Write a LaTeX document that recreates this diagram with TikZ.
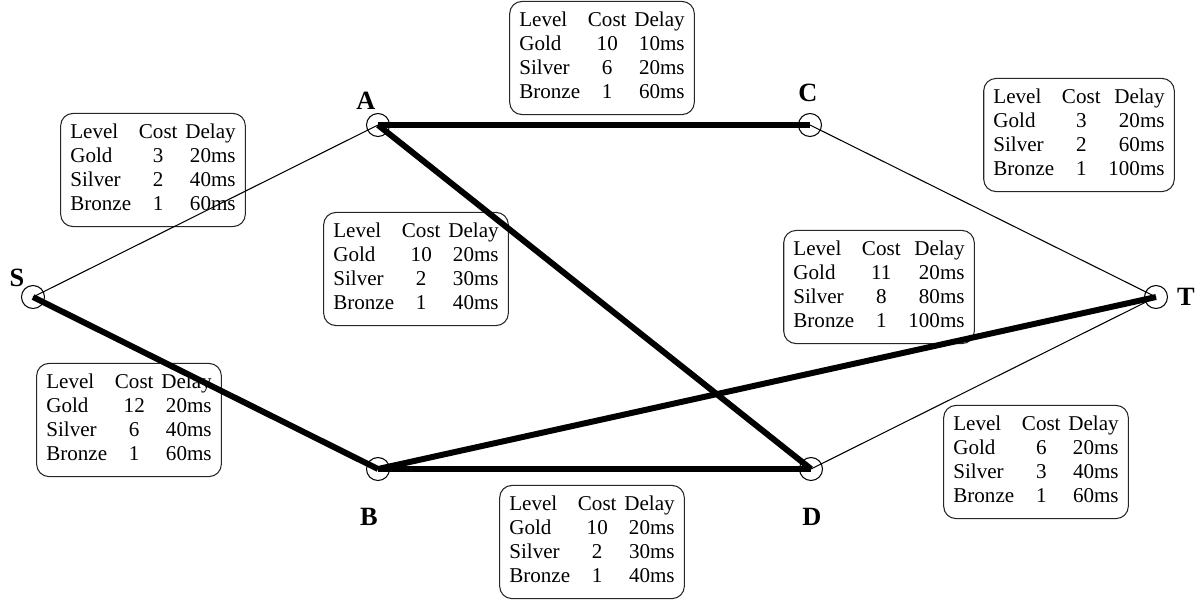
\documentclass[tikz,border=0pt]{standalone}
\usepackage{fontspec}
\setmainfont{Liberation Serif}
\usetikzlibrary{positioning}

\tikzset{
  router/.style={draw, circle, minimum size=0.46cm, inner sep=0pt, line width=0.6pt},
  rname/.style={font=\bfseries\fontsize{15}{15}\selectfont, inner sep=0pt},
  costbox/.style={draw=black!85, rounded corners=7pt, fill=white, line width=0.6pt,
    inner xsep=5.5pt, inner ysep=5pt, font=\fontsize{12}{13.6}\selectfont},
  thinlink/.style={line width=0.6pt},
  thicklink/.style={line width=3.4pt},
}
\newcommand{\leveltab}[6]{%
  \setlength{\tabcolsep}{2.2pt}%
  \begin{tabular}{@{}l c r@{}}
  Level & Cost & Delay\\
  Gold & #1 & #2\\
  Silver & #3 & #4\\
  Bronze & #5 & #6
  \end{tabular}}

\begin{document}
\begin{tikzpicture}[x=0.02cm, y=-0.02cm]
		\useasboundingbox (0,0) rectangle (1200,599);
		% cost / delay tables
		\node[costbox] (tSA) at (153,170) {\leveltab{3}{20ms}{2}{40ms}{1}{60ms}};
		\node[costbox] (tAC) at (602,58) {\leveltab{10}{10ms}{6}{20ms}{1}{60ms}};
		\node[costbox] (tCT) at (1079,135) {\leveltab{3}{20ms}{2}{60ms}{1}{100ms}};
		\node[costbox] (tAD) at (416,269) {\leveltab{10}{20ms}{2}{30ms}{1}{40ms}};
		\node[costbox] (tBT) at (879,287) {\leveltab{11}{20ms}{8}{80ms}{1}{100ms}};
		\node[costbox] (tSB) at (129,420) {\leveltab{12}{20ms}{6}{40ms}{1}{60ms}};
		\node[costbox] (tBD) at (592,542) {\leveltab{10}{20ms}{2}{30ms}{1}{40ms}};
		\node[costbox] (tDT) at (1036,462) {\leveltab{6}{20ms}{3}{40ms}{1}{60ms}};
		% routers
		\node[router] (S) at (33,297) {};
		\node[router] (A) at (378,125) {};
		\node[router] (C) at (810,125) {};
		\node[router] (T) at (1156,297) {};
		\node[router] (B) at (378,469) {};
		\node[router] (D) at (811,469) {};
		\node[rname] (lS) at (17,278) {S};
		\node[rname] (lA) at (366,101) {A};
		\node[rname] (lC) at (808,93) {C};
		\node[rname] (lT) at (1186,297) {T};
		\node[rname] (lB) at (369,517) {B};
		\node[rname] (lD) at (812,517) {D};
		% links
		\draw[thinlink] (S.center) -- (A.center);
		\draw[thinlink] (C.center) -- (T.center);
		\draw[thinlink] (D.center) -- (T.center);
		\draw[thicklink] (S.center) -- (B.center);
		\draw[thicklink] (A.center) -- (C.center);
		\draw[thicklink] (A.center) -- (D.center);
		\draw[thicklink] (B.center) -- (D.center);
		\draw[thicklink] (B.center) -- (T.center);
\end{tikzpicture}
\end{document}
